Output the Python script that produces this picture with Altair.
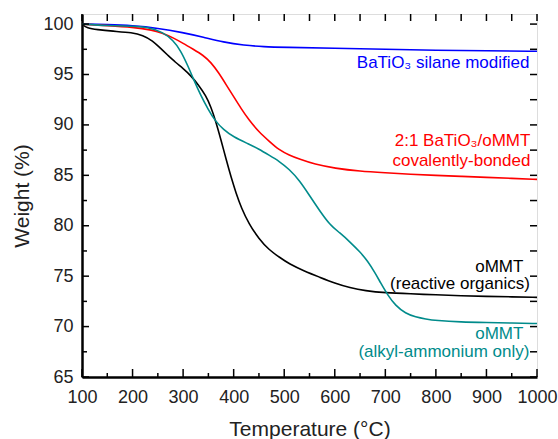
import altair as alt
import pandas as pd

# ---- data ----
T_black = [100, 110, 130, 160, 200, 220, 240, 255, 270, 285, 300, 315, 330, 345, 355, 365, 375, 385,
           395, 405, 415, 430, 450, 470, 490, 510, 540, 570, 600, 630, 660, 700, 750, 800, 850, 900, 950, 1000]
W_black = [100, 99.6, 99.45, 99.3, 99.15, 98.9, 98.35, 97.6, 96.9, 96.2, 95.6, 94.9, 94.0, 92.9, 91.8, 90.3, 88.5, 86.6,
           84.8, 83.2, 81.8, 80.2, 78.7, 77.6, 76.9, 76.2, 75.5, 74.9, 74.3, 73.85, 73.55, 73.35, 73.25, 73.15, 73.05, 73.0, 72.95, 72.9]

T_teal = [100, 150, 200, 230, 260, 280, 295, 310, 320, 335, 350, 362, 380, 400, 430, 450, 470, 490, 510, 530,
          550, 570, 590, 610, 630, 650, 665, 680, 690, 705, 720, 740, 760, 780, 800, 850, 900, 950, 1000]
W_teal = [100, 99.85, 99.8, 99.7, 99.2, 98.4, 97.4, 95.8, 94.6, 92.9, 91.5, 90.5, 89.5, 88.8, 88.1, 87.6, 87.0, 86.4, 85.6, 84.5,
          83.0, 81.5, 80.1, 79.3, 78.4, 77.4, 76.5, 75.3, 74.4, 73.1, 72.1, 71.3, 70.95, 70.75, 70.6, 70.45, 70.4, 70.35, 70.3]

T_red = [100, 150, 200, 240, 260, 280, 300, 320, 340, 355, 370, 385, 400, 415, 430, 450, 470, 490, 510, 530,
         560, 600, 650, 700, 750, 800, 850, 900, 950, 1000]
W_red = [100, 99.85, 99.7, 99.4, 99.1, 98.65, 98.1, 97.5, 96.9, 96.2, 95.2, 94.0, 92.8, 91.6, 90.5, 89.3, 88.4, 87.5, 87.0, 86.6,
         86.1, 85.7, 85.4, 85.25, 85.1, 85.0, 84.9, 84.8, 84.7, 84.6]

T_blue = [100, 150, 200, 250, 300, 340, 380, 420, 460, 500, 600, 700, 800, 900, 1000]
W_blue = [100, 99.95, 99.85, 99.6, 99.15, 98.7, 98.2, 97.9, 97.75, 97.7, 97.6, 97.5, 97.4, 97.35, 97.3]

series_names = ["oMMT (reactive organics)", "BaTiO3 silane modified",
                "2:1 BaTiO3/oMMT covalently-bonded", "oMMT (alkyl-ammonium only)"]
series_colors = ["#000000", "#0000FF", "#FF0000", "#008B8B"]

label_text = ["BaTiO₃ silane modified", "2:1 BaTiO₃/oMMT", "covalently-bonded",
              "oMMT", "(reactive organics)", "oMMT", "(alkyl-ammonium only)"]
label_series = [series_names[1], series_names[2], series_names[2],
                series_names[0], series_names[0], series_names[3], series_names[3]]
label_T = [985, 987, 987, 973, 986, 973, 985]
label_W = [95.6, 87.95, 85.9, 75.45, 73.75, 68.8, 67.0]

x_major = [100, 200, 300, 400, 500, 600, 700, 800, 900, 1000]
x_minor = [150, 250, 350, 450, 550, 650, 750, 850, 950]
y_major = [65, 70, 75, 80, 85, 90, 95, 100]
y_minor = [67.5, 72.5, 77.5, 82.5, 87.5, 92.5, 97.5]

# ---- build tables ----
rows = []
for name, Ts, Ws in [(series_names[0], T_black, W_black), (series_names[1], T_blue, W_blue),
                     (series_names[2], T_red, W_red), (series_names[3], T_teal, W_teal)]:
    for t, w in zip(Ts, Ws):
        rows.append({"series": name, "T": t, "W": w})
df = pd.DataFrame(rows)
df_lab = pd.DataFrame({"T": label_T, "W": label_W, "text": label_text, "series": label_series})

W_PLOT, H_PLOT = 455, 363
FONT = "Liberation Sans"

x_scale = alt.Scale(domain=[100, 1000], nice=False, zero=False)
y_scale = alt.Scale(domain=[65, 101], nice=False, zero=False)
color_scale = alt.Scale(domain=series_names, range=series_colors)

x_axis = alt.Axis(title="Temperature (°C)", values=x_major, format="d", grid=False,
                  ticks=False, tickSize=0, labelPadding=11, labelFontSize=18,
                  titleFontSize=21, titlePadding=12, labelFont=FONT, titleFont=FONT,
                  titleFontWeight="normal", domainWidth=2.5, domainColor="black",
                  labelColor="#222", titleColor="#222", labelFlush=False)
y_axis = alt.Axis(title="Weight (%)", values=y_major, format="d", grid=False,
                  ticks=False, tickSize=0, labelPadding=9, labelFontSize=18,
                  titleFontSize=21, titlePadding=10, labelFont=FONT, titleFont=FONT,
                  titleFontWeight="normal", domainWidth=2.5, domainColor="black",
                  labelColor="#222", titleColor="#222", labelFlush=False)

lines = alt.Chart(df).mark_line(strokeWidth=1.6, interpolate="basis", clip=True).encode(
    x=alt.X("T:Q", scale=x_scale, axis=x_axis),
    y=alt.Y("W:Q", scale=y_scale, axis=y_axis),
    color=alt.Color("series:N", scale=color_scale, legend=None),
)

labels = alt.Chart(df_lab).mark_text(align="right", baseline="alphabetic", fontSize=17, font=FONT).encode(
    x=alt.X("T:Q", scale=x_scale, axis=x_axis),
    y=alt.Y("W:Q", scale=y_scale, axis=y_axis),
    text="text:N",
    color=alt.Color("series:N", scale=color_scale, legend=None),
)

df_xmaj = pd.DataFrame({"T": x_major})
df_xmin = pd.DataFrame({"T": x_minor})
df_ymaj = pd.DataFrame({"W": y_major})
df_ymin = pd.DataFrame({"W": y_minor})

def xticks(d, y0, y1):
    return alt.Chart(d).mark_rule(color="black", strokeWidth=1.5).encode(
        x=alt.X("T:Q", scale=x_scale, axis=x_axis), y=alt.value(y0), y2=alt.value(y1))

def yticks(d, x0, x1):
    return alt.Chart(d).mark_rule(color="black", strokeWidth=1.5).encode(
        y=alt.Y("W:Q", scale=y_scale, axis=y_axis), x=alt.value(x0), x2=alt.value(x1))

ticks = [
    xticks(df_xmaj, H_PLOT, H_PLOT - 8), xticks(df_xmin, H_PLOT, H_PLOT - 4),
    xticks(df_xmaj, 0, 7), xticks(df_xmin, 0, 7),
    yticks(df_ymaj, 0, 7), yticks(df_ymin, 0, 5),
    yticks(df_ymaj, W_PLOT, W_PLOT - 7), yticks(df_ymin, W_PLOT, W_PLOT - 7),
]

chart = alt.layer(lines, labels, *ticks).properties(
    width=W_PLOT, height=H_PLOT,
    autosize=alt.AutoSizeParams(type="none"),
    padding={"left": 82, "top": 14, "right": 21, "bottom": 62},
).configure_view(stroke="black", strokeWidth=2).configure(background="white")

chart.save("out.html", embed_options={"renderer": "svg", "actions": False})
